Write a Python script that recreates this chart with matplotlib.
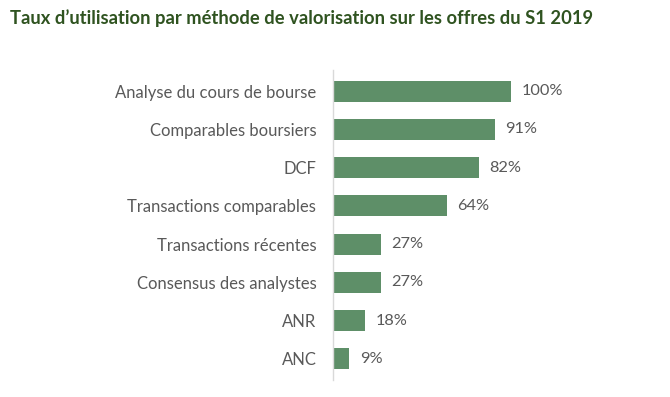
import matplotlib.pyplot as plt

methods = ['Analyse du cours de bourse', 'Comparables boursiers', 'DCF',
           'Transactions comparables', 'Transactions récentes',
           'Consensus des analystes', 'ANR', 'ANC']
rates = [100, 91, 82, 64, 27, 27, 18, 9]

plt.rcParams['font.family'] = ['Lato', 'DejaVu Sans']

fig = plt.figure(figsize=(6.7, 3.97), dpi=100)
ax = fig.add_axes([333/670, 1-380/397, 231/670, 310/397])

bar_color = '#5e8f68'
text_color = '#595959'
ax.barh(range(len(methods)), rates, height=0.55, color=bar_color)
for i, v in enumerate(rates):
    ax.text(v + 6, i, f'{v}%', va='center', ha='left', fontsize=11.8, color=text_color)

ax.set_xlim(0, 130)
ax.set_ylim(len(methods) - 0.45, -0.55)
ax.set_yticks(range(len(methods)))
ax.set_yticklabels(methods, fontsize=12, color=text_color)
ax.tick_params(axis='y', length=0, pad=12)
ax.set_xticks([])
for s in ['top', 'right', 'bottom']:
    ax.spines[s].set_visible(False)
ax.spines['left'].set_color('#d9d9d9')
ax.spines['left'].set_linewidth(1)

fig.text(10/670, 1-18/397, 'Taux d\u2019utilisation par méthode de valorisation sur les offres du S1 2019',
         fontsize=13.2, color='#2f5320', weight='bold', va='center', ha='left')

fig.savefig('out.png', dpi=100)
